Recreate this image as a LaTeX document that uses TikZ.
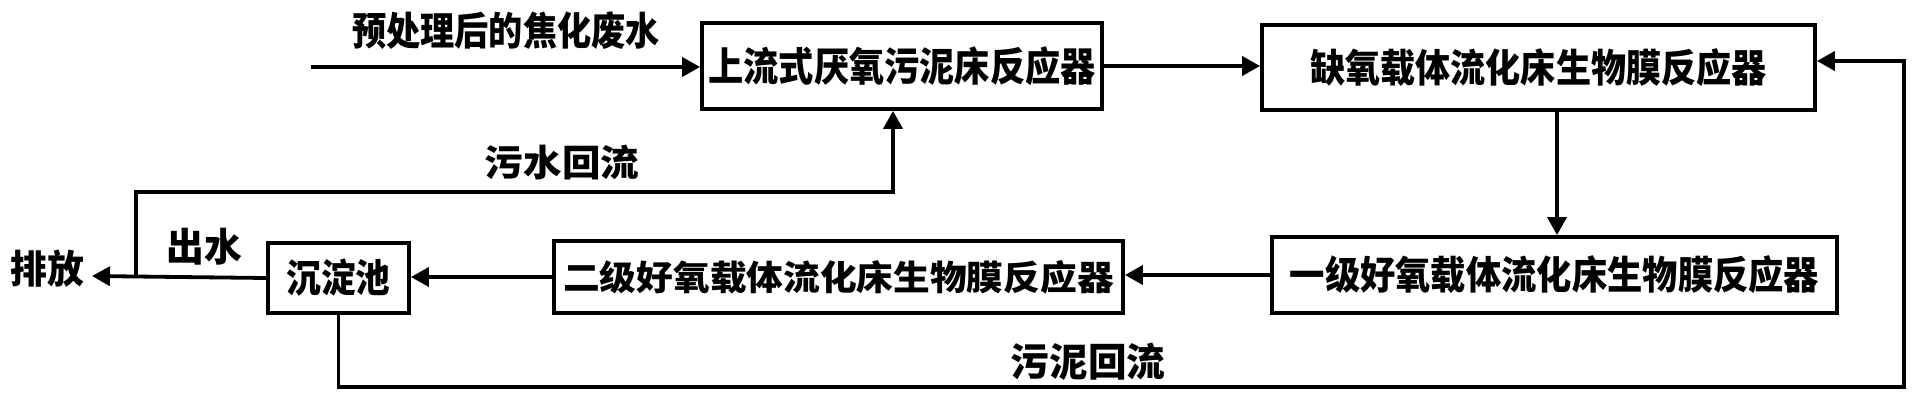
\documentclass[tikz,border=0pt]{standalone}
\usepackage{fontspec}
\usepackage{graphicx}
\setmainfont{Noto Sans CJK SC}
\usetikzlibrary{arrows.meta}
\newcommand\CT[3]{\scalebox{#2}[1]{\fontsize{#1}{#1}\selectfont\bfseries #3}}
\begin{document}
\begin{tikzpicture}[x=1pt,y=-1pt,
  box/.style={draw, line width=3.8pt, inner sep=0pt, align=center},
  lab/.style={inner sep=0pt},
  flow/.style={line width=3.8pt, -{Triangle[length=18pt,width=19pt]}}]
\useasboundingbox (0,0) rectangle (1918,404);
% boxes
\node[box, minimum width=400pt, minimum height=86pt] (b1) at (902,66) {\CT{40}{0.88}{上流式厌氧污泥床反应器}};
\node[box, minimum width=553pt, minimum height=85pt] (b3) at (1538.5,67.5) {\CT{39}{0.90}{缺氧载体流化床生物膜反应器}};
\node[box, minimum width=565pt, minimum height=76pt] (b4) at (1554.5,275) {\CT{39}{0.905}{一级好氧载体流化床生物膜反应器}};
\node[box, minimum width=569pt, minimum height=72pt] (b2) at (838.5,277) {\CT{34.5}{1.064}{二级好氧载体流化床生物膜反应器}};
\node[box, minimum width=141pt, minimum height=70pt] (sed) at (338.5,278) {\CT{39}{0.89}{沉淀池}};
% labels
\node[lab] (tin) at (506,31) {\CT{39}{0.876}{预处理后的焦化废水}};
\node[lab] (tws) at (562,163) {\CT{36.7}{1.05}{污水回流}};
\node[lab] (tout) at (204,247) {\CT{39}{0.97}{出水}};
\node[lab] (tpf) at (47,269) {\CT{39}{0.945}{排放}};
\node[lab] (tsl) at (1088,362) {\CT{39}{0.99}{污泥回流}};
% coordinates
\coordinate (in) at (311,67);
\coordinate (xd) at (1557,0);
\coordinate (ptip) at (92,276);
\coordinate (j1) at (136,276);
\coordinate (r1) at (893,192);
\coordinate (s1) at (1904,387);
\coordinate (s2) at (1904,61);
% connectors
\draw[flow] (in) -- (in -| b1.west);
\draw[flow] (b1.east) -- (b1.east -| b3.west);
\draw[flow] (b3.south -| xd) -- (b4.north -| xd);
\draw[flow] (b4.west) -- (b4.west -| b2.east);
\draw[flow] (b2.west) -- (b2.west -| sed.east);
\draw[flow] (sed.west) -- (ptip);
\draw[flow] (j1) |- (r1) -- (r1 |- b1.south);
\draw[flow] (sed.south) |- (s1) -- (s2) -- (s2 -| b3.east);
\end{tikzpicture}
\end{document}
